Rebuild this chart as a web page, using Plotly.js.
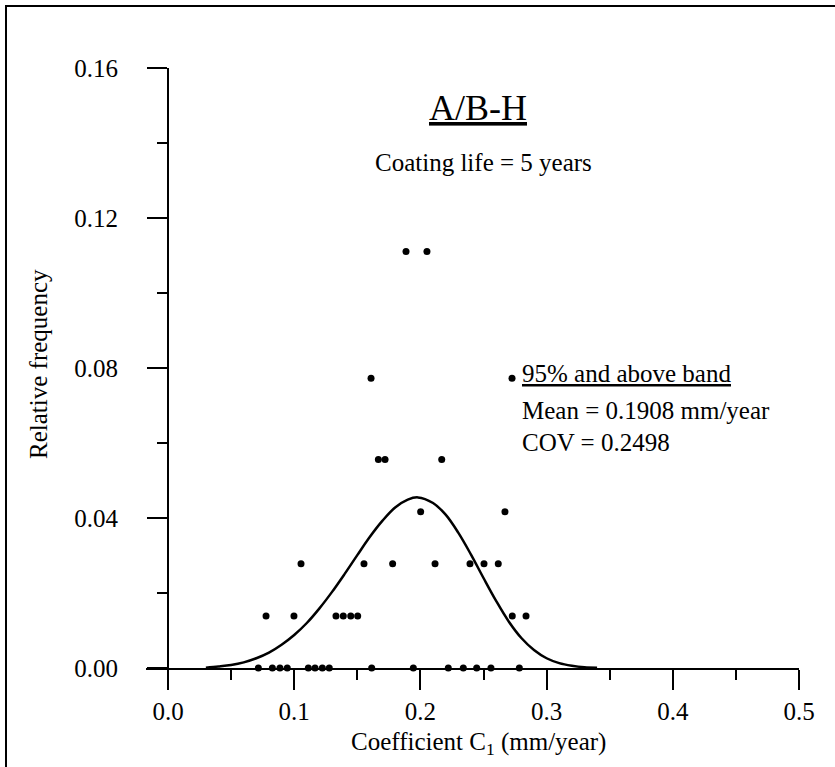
<!DOCTYPE html>
<html>
<head>
<meta charset="utf-8">
<script src="https://cdn.plot.ly/plotly-3.0.1.min.js"></script>
<style>
  html, body { margin: 0; padding: 0; background: #fff; }
  #wrap { position: relative; width: 835px; height: 767px; overflow: hidden; }
  #chart { position: absolute; left: 0; top: 0; width: 835px; height: 767px; }
  #frame { position: absolute; left: 5px; top: 5px; width: 840px; height: 800px;
           border-left: 2px solid #000; border-top: 2px solid #000; pointer-events: none; }
</style>
</head>
<body>
<div id="wrap">
  <div id="chart"></div>
  <div id="frame"></div>
</div>
<script>
// ---- data ----
// relative-frequency levels of the dot rows
const freqLevels = [0.0, 0.0139, 0.0278, 0.0417, 0.0556, 0.0773, 0.1111];
// coefficient C1 values of the dots in each row
const row0X   = [0.0716, 0.0827, 0.0887, 0.0945, 0.1112, 0.1165, 0.1223, 0.1278, 0.1614, 0.1944, 0.2221, 0.2340, 0.2446, 0.2559, 0.2784];
const row1X   = [0.0777, 0.0998, 0.1331, 0.1389, 0.1448, 0.1503, 0.2728, 0.2837];
const row2X   = [0.1054, 0.1553, 0.1780, 0.2116, 0.2393, 0.2504, 0.2617];
const row3X   = [0.2002, 0.2670];
const row4X   = [0.1667, 0.1720, 0.2169];
const row5X   = [0.1609, 0.2726];
const row6X   = [0.1886, 0.2052];
// fitted density curve
const curveX = [0.030, 0.040, 0.050, 0.060, 0.070, 0.080, 0.090, 0.100, 0.110, 0.120, 0.130, 0.140, 0.150, 0.160, 0.170, 0.180, 0.190, 0.198, 0.210, 0.220, 0.230, 0.240, 0.250, 0.260, 0.270, 0.280, 0.290, 0.300, 0.310, 0.320, 0.330, 0.340];
const curveY = [0.0001, 0.0004, 0.0008, 0.0015, 0.0026, 0.0041, 0.0062, 0.0088, 0.0120, 0.0159, 0.0203, 0.0251, 0.0301, 0.0350, 0.0393, 0.0428, 0.0449, 0.0455, 0.0440, 0.0409, 0.0361, 0.0303, 0.0240, 0.0179, 0.0124, 0.0080, 0.0048, 0.0026, 0.0013, 0.0006, 0.0002, 0.0001];
// axis ticks
const xTicks = [0.0, 0.1, 0.2, 0.3, 0.4, 0.5];
const xTickText = ["0.0", "0.1", "0.2", "0.3", "0.4", "0.5"];
const yTicks = [0.00, 0.04, 0.08, 0.12, 0.16];
const yTickText = ["0.00", "0.04", "0.08", "0.12", "0.16"];
// texts
const titleText = "A/B-H";
const subtitleText = "Coating life = 5 years";
const bandText = "95% and above band";
const meanText = "Mean = 0.1908 mm/year";
const covText = "COV = 0.2498";
const xTitleText = "Coefficient C<sub>1</sub> (mm/year)";
const yTitleText = "Relative frequency";

// ---- build traces ----
const rowsX = [row0X, row1X, row2X, row3X, row4X, row5X, row6X];
const dotX = [], dotY = [];
rowsX.forEach((xs, i) => xs.forEach(x => { dotX.push(x); dotY.push(freqLevels[i]); }));

const FONT = "Liberation Serif, Times New Roman, serif";
const X0 = -0.01743;

const traces = [
  {
    x: curveX, y: curveY, type: 'scatter', mode: 'lines',
    line: { color: '#000', width: 2.5, shape: 'spline', smoothing: 1 },
    hoverinfo: 'skip', showlegend: false
  },
  {
    x: dotX, y: dotY, type: 'scatter', mode: 'markers',
    marker: { color: '#000', size: 7, line: { width: 0 } },
    cliponaxis: false, showlegend: false
  }
];

const layout = {
  width: 835, height: 767,
  margin: { l: 146, r: 36, t: 68, b: 99, pad: 0 },
  paper_bgcolor: '#fff', plot_bgcolor: '#fff',
  font: { family: FONT, size: 25, color: '#000' },
  showlegend: false,
  xaxis: {
    range: [X0, 0.5], domain: [0, 1], anchor: 'y',
    tickmode: 'array', tickvals: xTicks, ticktext: xTickText,
    ticks: 'outside', ticklen: 20, tickwidth: 2, tickcolor: '#000',
    minor: { tickmode: 'linear', tick0: 0, dtick: 0.05, ticks: 'outside', ticklen: 10, tickwidth: 2, tickcolor: '#000', showgrid: false },
    showline: true, linewidth: 2, linecolor: '#000',
    showgrid: false, zeroline: false,
    tickfont: { family: FONT, size: 25, color: '#000' },
    ticklabelstandoff: 0
  },
  yaxis: {
    range: [0, 0.16], anchor: 'free', position: (0 - X0) / (0.5 - X0),
    tickmode: 'array', tickvals: yTicks, ticktext: yTickText,
    ticks: 'outside', ticklen: 20, tickwidth: 2, tickcolor: '#000',
    minor: { tickmode: 'linear', tick0: 0, dtick: 0.02, ticks: 'outside', ticklen: 10, tickwidth: 2, tickcolor: '#000', showgrid: false },
    showline: true, linewidth: 2, linecolor: '#000',
    showgrid: false, zeroline: false,
    tickfont: { family: FONT, size: 25, color: '#000' },
    ticklabelstandoff: 24
  },
  annotations: [
    { text: titleText, xref: 'x', yref: 'y', x: 0.2456, y: (668 - 108) / 3750, xanchor: 'center', yanchor: 'middle',
      showarrow: false, font: { family: FONT, size: 36, color: '#000', lineposition: 'under' } },
    { text: subtitleText, xref: 'x', yref: 'y', x: 0.2500, y: (668 - 162) / 3750, xanchor: 'center', yanchor: 'middle',
      showarrow: false, font: { family: FONT, size: 25, color: '#000' } },
    { text: bandText, xref: 'x', yref: 'y', x: (520 - 168) / 1262, y: (668 - 373) / 3750, xanchor: 'left', yanchor: 'middle',
      showarrow: false, font: { family: FONT, size: 25, color: '#000', lineposition: 'under' } },
    { text: meanText, xref: 'x', yref: 'y', x: (520 - 168) / 1262, y: (668 - 410) / 3750, xanchor: 'left', yanchor: 'middle',
      showarrow: false, font: { family: FONT, size: 25, color: '#000' } },
    { text: covText, xref: 'x', yref: 'y', x: (520 - 168) / 1262, y: (668 - 442) / 3750, xanchor: 'left', yanchor: 'middle',
      showarrow: false, font: { family: FONT, size: 25, color: '#000' } },
    { text: xTitleText, xref: 'paper', yref: 'paper', x: (478 - 146) / 653, y: (668 - 743) / 600, xanchor: 'center', yanchor: 'middle',
      showarrow: false, font: { family: FONT, size: 25, color: '#000' } },
    { text: yTitleText, xref: 'paper', yref: 'paper', x: (38 - 146) / 653, y: (668 - 364) / 600, xanchor: 'center', yanchor: 'middle',
      textangle: -90, showarrow: false, font: { family: FONT, size: 25, color: '#000' } }
  ]
};

Plotly.newPlot('chart', traces, layout, { staticPlot: true, displayModeBar: false });
</script>
</body>
</html>
